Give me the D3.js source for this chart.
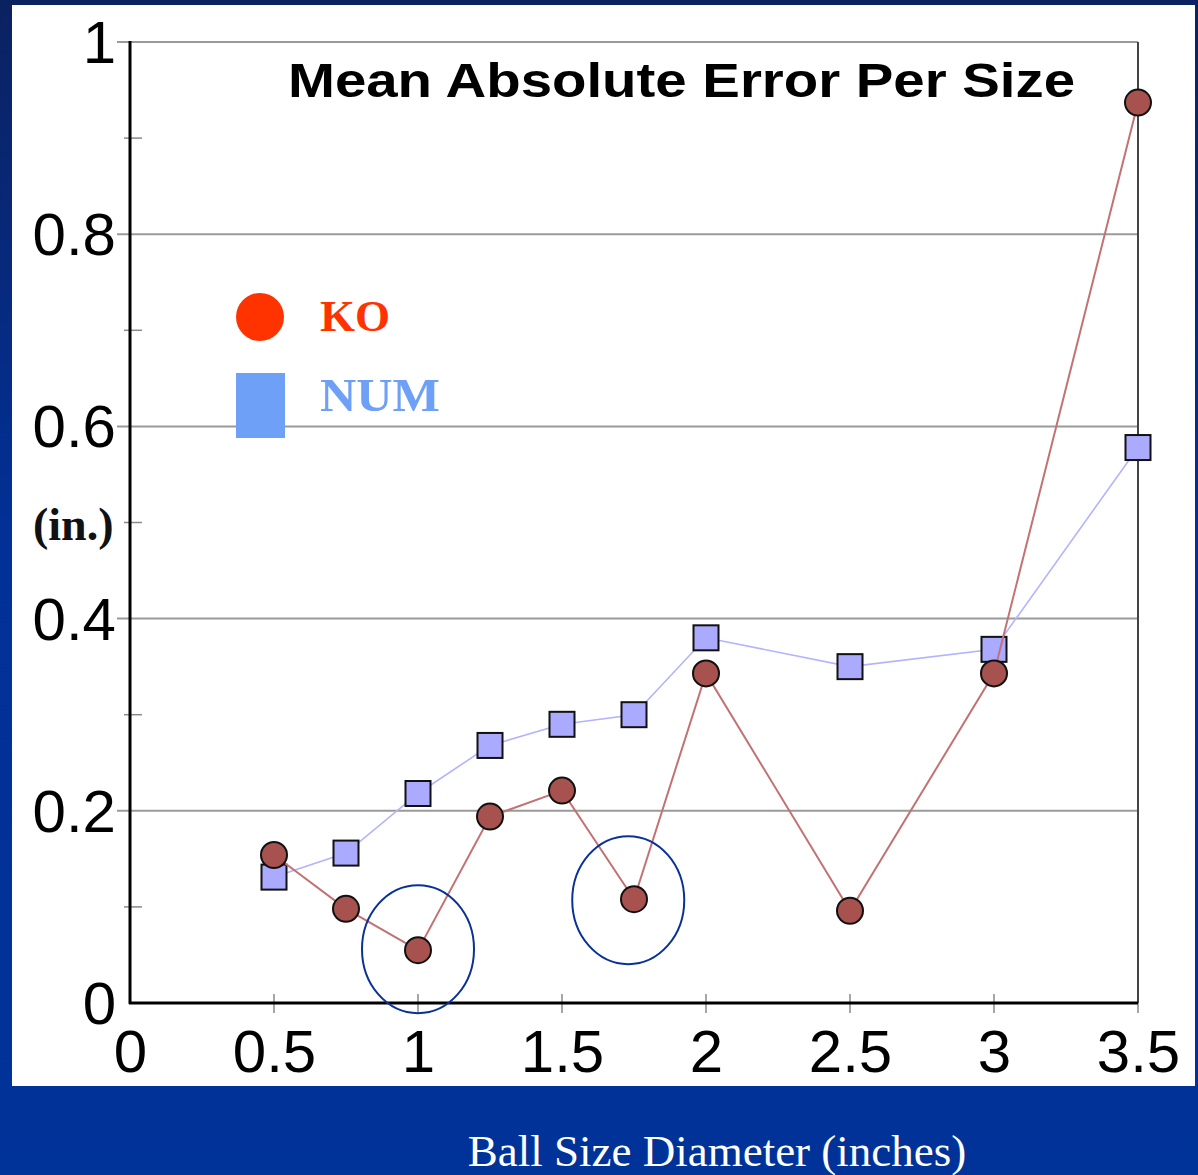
<!DOCTYPE html>
<html>
<head>
<meta charset="utf-8">
<script src="https://cdn.jsdelivr.net/npm/d3@7/dist/d3.min.js"></script>
<style>
  html, body { margin: 0; padding: 0; background: #003399; }
  svg { display: block; }
</style>
</head>
<body>
<svg id="chart" width="1198" height="1175"></svg>
<script>
// Ball diameters (inches)
const sizes = [0.5, 0.75, 1.0, 1.25, 1.5, 1.75, 2.0, 2.5, 3.0, 3.5];
// Mean absolute error (inches) per ball size
const koError  = [0.154, 0.098, 0.055, 0.194, 0.221, 0.108, 0.343, 0.096, 0.343, 0.937];
const numError = [0.131, 0.156, 0.218, 0.268, 0.290, 0.300, 0.380, 0.350, 0.368, 0.578];
// Axis ticks
const xTicks = [0, 0.5, 1, 1.5, 2, 2.5, 3, 3.5];
const yMajorTicks = [0, 0.2, 0.4, 0.6, 0.8, 1];
const yMinorTicks = [0.1, 0.3, 0.5, 0.7, 0.9];
const xTickLabels = ["0", "0.5", "1", "1.5", "2", "2.5", "3", "3.5"];
const yTickLabels = ["0", "0.2", "0.4", "0.6", "0.8", "1"];
// Points called out with an ellipse (size, error)
const callouts = [[1.0, 0.056], [1.73, 0.107]];
// Legend entries
const seriesNames = ["KO", "NUM"];

const svg = d3.select("#chart");
const W = 1198, H = 1175;

// Background: navy slide with white chart panel
const defs = svg.append("defs");
const grad = defs.append("linearGradient").attr("id", "bg")
  .attr("x1", 0).attr("y1", 0).attr("x2", 0).attr("y2", 1);
grad.append("stop").attr("offset", 0).attr("stop-color", "#0b2261");
grad.append("stop").attr("offset", 0.45).attr("stop-color", "#023096");
grad.append("stop").attr("offset", 1).attr("stop-color", "#003399");
svg.append("rect").attr("width", W).attr("height", H).attr("fill", "url(#bg)");
svg.append("rect").attr("x", 12).attr("y", 5).attr("width", 1183).attr("height", 1081)
  .attr("fill", "#ffffff");

const x = d3.scaleLinear().domain([0, 3.5]).range([130, 1138]);
const y = d3.scaleLinear().domain([0, 1]).range([1003, 42]);

const numFont = "'Liberation Sans', Arial, sans-serif";
const serif = "'Liberation Serif', 'Times New Roman', serif";

// Horizontal gridlines at major ticks
svg.append("g").selectAll("line").data(yMajorTicks.slice(1)).join("line")
  .attr("x1", 117).attr("x2", x(3.5))
  .attr("y1", d => y(d)).attr("y2", d => y(d))
  .attr("stroke", "#9a9a9a").attr("stroke-width", 2);

// Minor ticks on the y axis
svg.append("g").selectAll("line").data(yMinorTicks).join("line")
  .attr("x1", 124).attr("x2", 142)
  .attr("y1", d => y(d)).attr("y2", d => y(d))
  .attr("stroke", "#8a8a8a").attr("stroke-width", 1.5);

// X tick marks
svg.append("g").selectAll("line").data(xTicks.slice(1)).join("line")
  .attr("x1", d => x(d)).attr("x2", d => x(d))
  .attr("y1", y(0) - 9).attr("y2", y(0) + 10)
  .attr("stroke", "#8a8a8a").attr("stroke-width", 1.5);

// Right border of plot
svg.append("line")
  .attr("x1", x(3.5)).attr("x2", x(3.5)).attr("y1", y(1)).attr("y2", y(0))
  .attr("stroke", "#444").attr("stroke-width", 2);

// Axis lines
svg.append("line").attr("x1", x(0)).attr("x2", x(0)).attr("y1", y(1) - 1).attr("y2", y(0) + 1)
  .attr("stroke", "#000").attr("stroke-width", 3);
svg.append("line").attr("x1", x(0) - 1).attr("x2", x(3.5)).attr("y1", y(0)).attr("y2", y(0))
  .attr("stroke", "#000").attr("stroke-width", 3);

// Tick labels via d3 axes (tick lines and domain hidden)
const yAxis = d3.axisLeft(y).tickValues(yMajorTicks)
  .tickFormat((d, i) => yTickLabels[i]).tickSize(0).tickPadding(0);
const gy = svg.append("g").attr("transform", "translate(116,0)").call(yAxis);
gy.select(".domain").remove();
gy.selectAll("text").attr("font-family", numFont).attr("font-size", 60)
  .attr("fill", "#000").attr("dy", "0.34em");

const xAxis = d3.axisBottom(x).tickValues(xTicks)
  .tickFormat((d, i) => xTickLabels[i]).tickSize(0).tickPadding(0);
const gx = svg.append("g").attr("transform", "translate(0,1072)").call(xAxis);
gx.select(".domain").remove();
gx.selectAll("text").attr("font-family", numFont).attr("font-size", 60)
  .attr("fill", "#000").attr("dy", 0);

// Series lines
const line = (vals) => d3.line().x((d, i) => x(sizes[i])).y(d => y(d))(vals);
svg.append("path").attr("d", line(numError)).attr("fill", "none")
  .attr("stroke", "#b3b3ff").attr("stroke-width", 1.6);

// NUM markers (squares)
const sq = 25;
svg.append("g").selectAll("rect").data(numError).join("rect")
  .attr("x", (d, i) => x(sizes[i]) - sq / 2).attr("y", d => y(d) - sq / 2)
  .attr("width", sq).attr("height", sq)
  .attr("fill", "#aaaaff").attr("stroke", "#111").attr("stroke-width", 2);

svg.append("path").attr("d", line(koError)).attr("fill", "none")
  .attr("stroke", "#c27272").attr("stroke-width", 2);

// KO markers (circles)
svg.append("g").selectAll("circle").data(koError).join("circle")
  .attr("cx", (d, i) => x(sizes[i])).attr("cy", d => y(d)).attr("r", 13)
  .attr("fill", "#a8524f").attr("stroke", "#111").attr("stroke-width", 2);

// Callout ellipses
svg.append("g").selectAll("ellipse").data(callouts).join("ellipse")
  .attr("cx", d => x(d[0])).attr("cy", d => y(d[1]))
  .attr("rx", 56).attr("ry", 64)
  .attr("fill", "none").attr("stroke", "#0a3296").attr("stroke-width", 2);

// Title
svg.append("text").attr("x", 288).attr("y", 97)
  .attr("font-family", numFont).attr("font-weight", "bold").attr("font-size", 49)
  .attr("textLength", 787).attr("lengthAdjust", "spacingAndGlyphs")
  .attr("fill", "#000").text("Mean Absolute Error Per Size");

// Legend
svg.append("circle").attr("cx", 260).attr("cy", 317).attr("r", 24).attr("fill", "#ff3300");
svg.append("text").attr("x", 320).attr("y", 331)
  .attr("font-family", serif).attr("font-weight", "bold").attr("font-size", 45)
  .attr("fill", "#ff3300").text(seriesNames[0]);
svg.append("rect").attr("x", 236).attr("y", 373).attr("width", 49).attr("height", 65)
  .attr("fill", "#6fa0f8");
svg.append("text").attr("x", 320).attr("y", 411)
  .attr("font-family", serif).attr("font-weight", "bold").attr("font-size", 46)
  .attr("textLength", 120).attr("lengthAdjust", "spacingAndGlyphs")
  .attr("fill", "#6fa0f8").text(seriesNames[1]);

// Y unit label
svg.append("text").attr("x", 33).attr("y", 540)
  .attr("font-family", serif).attr("font-weight", "bold").attr("font-size", 46)
  .attr("fill", "#111").text("(in.)");

// X axis title
svg.append("text").attr("x", 717).attr("y", 1166).attr("text-anchor", "middle")
  .attr("font-family", serif).attr("font-size", 45)
  .attr("fill", "#ffffff").text("Ball Size Diameter (inches)");
</script>
</body>
</html>
